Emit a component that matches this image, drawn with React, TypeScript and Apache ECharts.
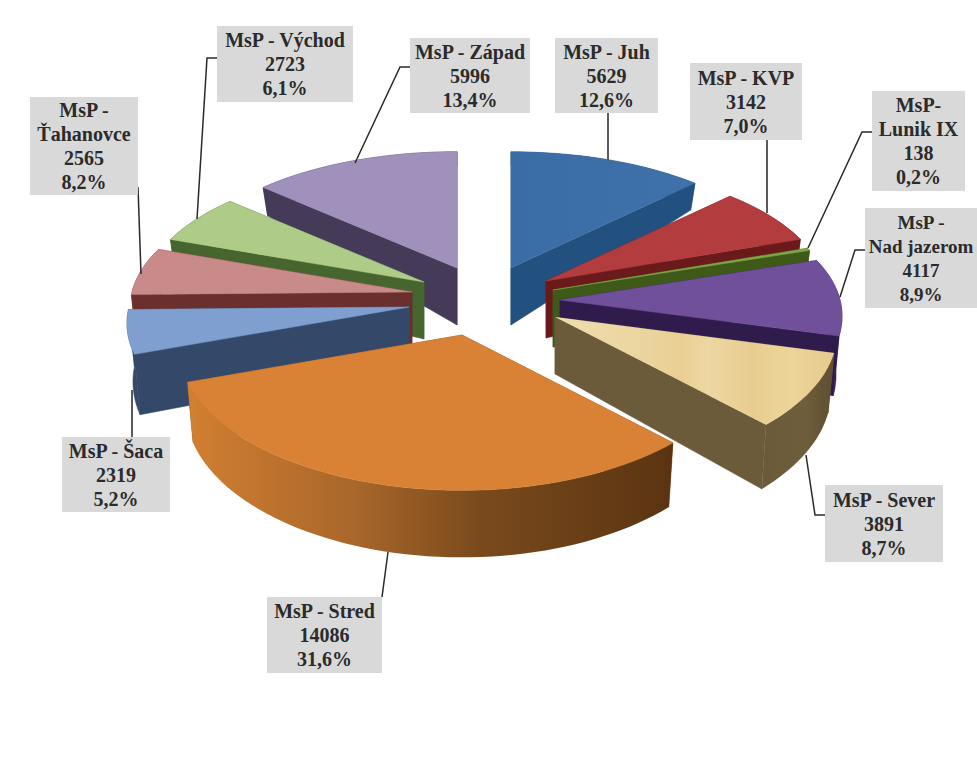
import React, { useEffect, useRef } from "react";
import * as echarts from "echarts";

const sliceNames = ["MsP - Juh", "MsP - KVP", "MsP-\nLunik IX", "MsP -\nNad jazerom", "MsP - Sever", "MsP - Stred", "MsP - Šaca", "MsP -\nŤahanovce", "MsP - Východ", "MsP - Západ"];
const sliceValues = [5629, 3142, 138, 4117, 3891, 14086, 2319, 2565, 2723, 5996];
const sliceShares = ["12,6%", "7,0%", "0,2%", "8,9%", "8,7%", "31,6%", "5,2%", "8,2%", "6,1%", "13,4%"];

const topColors = ["#3E70A8", "#B23C3E", "#7FA548", "#71509B", "#EBD196", "#D98134", "#7F9FD1", "#C98B89", "#AECB87", "#9F90BC"];
const wallColors = ["#22507F", "#6B1A1C", "#3F5A18", "#2F1B4C", "#6B5B3A", "#8A5520", "#34496A", "#6B2F2E", "#47652F", "#453A58"];

// Exploded offset of each slice from the pie's centre (the same idea as pie "explode").
const explodeOffsets = [[21, -27], [56, -14], [63, -5], [70, 5], [65, 22], [-28, 40], [-81, 12], [-78, -3], [-66, -13], [-33, -27]];

// Label boxes [x, y, width, height], label font sizes and leader lines.
const labelBoxes = [[555, 38, 103, 75], [690, 63, 112, 77], [872, 91, 93, 100], [865, 208, 112, 100], [825, 485, 118, 77], [267, 597, 115, 76], [62, 437, 108, 75], [30, 97, 108, 98], [217, 26, 136, 76], [410, 38, 120, 75]];
const labelFontSizes = [20, 20, 20, 19, 20, 20, 20, 20, 20, 20];
const leaderLines = [
  [[608, 113], [608, 161]],
  [[767, 140], [767, 213]],
  [[872, 132], [862, 132], [808, 248]],
  [[865, 250], [855, 250], [840, 297]],
  [[825, 515], [815, 515], [806, 455]],
  [[382, 597], [388, 552]],
  [[132, 437], [132, 390]],
  [[138, 187], [141, 274]],
  [[217, 58], [207, 58], [197, 219]],
  [[410, 67], [400, 67], [355, 163]],
];

const CX = 490, CY = 295, R = 280, A = 133, KY = 0.144, KX = 0.12, BASE = 57;
const total = sliceValues.reduce((s, v) => s + v, 0);
const rad = Math.PI / 180;

const sliceAngles = (() => {
  let acc = 0;
  return sliceValues.map((v) => {
    const start = acc;
    acc += (v / total) * 360;
    return [start, acc];
  });
})();

function project(i: number, deg: number, r: number, lower: boolean): number[] {
  const s = Math.sin(deg * rad), c = -Math.cos(deg * rad);
  let x = (R * r * s) / (1 - KX * r * c);
  let y = (A * r * c) / (1 - KY * r * c);
  if (lower) {
    x -= r * s * 6;
    y += BASE + r * (c < 0 ? 43 * c : 10 * c);
  }
  return [CX + explodeOffsets[i][0] + x, CY + explodeOffsets[i][1] + y];
}

function arc(i: number, from: number, to: number, lower: boolean): number[][] {
  const n = Math.max(2, Math.ceil(Math.abs(to - from) / 2));
  const pts: number[][] = [];
  for (let k = 0; k <= n; k++) pts.push(project(i, from + ((to - from) * k) / n, 1, lower));
  return pts;
}

const depthOf = (i: number) => -Math.cos(((sliceAngles[i][0] + sliceAngles[i][1]) / 2) * rad);
const drawOrder = sliceValues.map((_, i) => i).sort((a, b) => depthOf(a) - depthOf(b));

const linear = (stops: [number, string][]) => ({
  type: "linear", x: 0, y: 0, x2: 1, y2: 0, global: false,
  colorStops: stops.map(([offset, color]) => ({ offset, color })),
});

const outerFill: Record<number, any> = {
  5: linear([[0, "#D27F31"], [0.35, "#A8662A"], [0.6, "#7A4A1C"], [1, "#5A3412"]]),
  4: linear([[0, "#6A5A3A"], [0.6, "#6E5E3C"], [1, "#5E4E30"]]),
};
const topFill: Record<number, any> = {
  4: linear([[0, "#EFDDAE"], [0.3, "#EBD5A0"], [0.45, "#E9CF94"], [0.55, "#EDD7A2"], [0.7, "#E8CD90"], [0.85, "#ECD49A"], [1, "#E6CA8C"]]),
  0: linear([[0, "#3A6CA6"], [1, "#3F72AA"]]),
};

function renderSlice(params: any) {
  const i = drawOrder[params.dataIndex];
  const [a0, a1] = sliceAngles[i];
  const tipT = project(i, a0, 0, false);
  const tipB = project(i, a0, 0, true);
  const poly = (points: number[][], fill: any) => ({
    type: "polygon",
    shape: { points },
    style: { fill, stroke: typeof fill === "string" ? fill : "none", lineWidth: 0.5 },
  });
  const wall = wallColors[i];
  const children: any[] = [
    poly([tipT, project(i, a0, 1, false), project(i, a0, 1, true), tipB], wall),
    poly([tipT, project(i, a1, 1, false), project(i, a1, 1, true), tipB], wall),
    poly([...arc(i, a0, a1, false), ...arc(i, a1, a0, true)], outerFill[i] || wall),
    poly([tipT, ...arc(i, a0, a1, false)], topFill[i] || topColors[i]),
  ];
  return { type: "group", children };
}

export default function App() {
  const ref = useRef<HTMLDivElement>(null);
  useEffect(() => {
    const chart = echarts.init(ref.current!, undefined, { renderer: "svg" });
    const boxes = labelBoxes.map(([x, y, width, height]) => ({
      type: "rect",
      shape: { x, y, width, height },
      style: { fill: "#D9D9D9" },
      z: 5,
    }));
    const leaders = leaderLines.map((points, k) => ({
      type: "polyline",
      shape: { points },
      style: { stroke: k < 2 || k === 6 ? "#5A5A5A" : "#2A2A2A", lineWidth: k < 2 || k === 6 ? 2 : 1.5, fill: "none" },
      z: 4,
    }));
    const texts = sliceNames.map((name, i) => {
      const [x, y, w, h] = labelBoxes[i];
      return {
        type: "text",
        style: {
          text: `${name}\n${sliceValues[i]}\n${sliceShares[i]}`,
          x: x + w / 2,
          y: y + h / 2,
          align: "center",
          verticalAlign: "middle",
          lineHeight: 24,
          fill: "#2B2B2B",
          font: `bold ${labelFontSizes[i]}px "Liberation Serif", serif`,
        },
        z: 6,
      };
    });
    chart.setOption({
      animation: false,
      backgroundColor: "#FFFFFF",
      series: [
        {
          type: "custom",
          coordinateSystem: "none",
          silent: true,
          renderItem: renderSlice,
          data: drawOrder.map((i) => [sliceValues[i]]),
          z: 2,
        },
      ],
      graphic: [...leaders, ...boxes, ...texts],
    });
    return () => chart.dispose();
  }, []);
  return <div ref={ref} style={{ position: "absolute", left: 0, top: 0, width: 977, height: 765 }} />;
}
